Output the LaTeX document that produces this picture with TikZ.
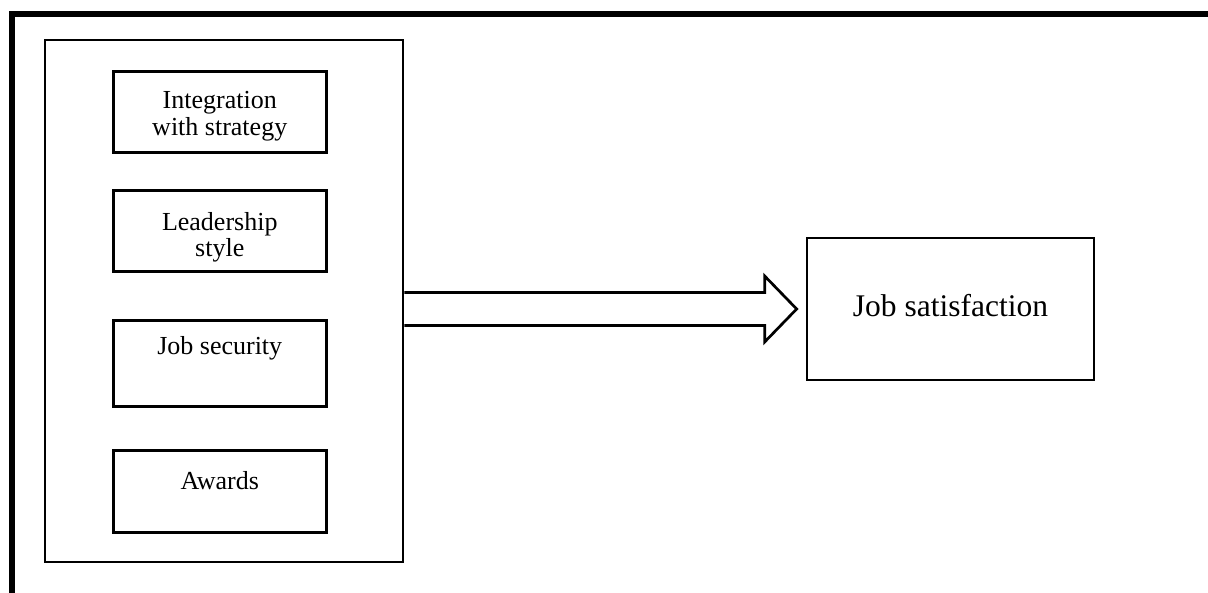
\documentclass[tikz,border=0pt]{standalone}
\usepackage{fontspec}
\setmainfont{Liberation Serif}
\usetikzlibrary{calc}
\begin{document}
\begin{tikzpicture}[x=1pt,y=-1pt,
  container/.style={draw=black, line width=2.6pt, inner sep=0pt},
  ibox/.style={draw=black, line width=3pt, inner sep=0pt, minimum width=212.5pt},
  txt/.style={inner sep=0pt, align=center, anchor=north, font=\fontsize{26}{26.5}\selectfont},
  bigtxt/.style={inner sep=0pt, anchor=base, font=\fontsize{31.5}{34}\selectfont},
  arrowsty/.style={draw=black, line width=2.7pt, line join=miter, fill=white}]
\useasboundingbox (0,0) rectangle (1208,593);
\begin{scope}
  \clip (0,0) rectangle (1208,593);
  \draw[line width=6pt] (12,14.5) rectangle (1240,640);
\end{scope}
% container
\node[container, minimum width=358pt, minimum height=522pt] (cont) at (224,301) {};
% inner boxes
\node[ibox, minimum height=81.5pt] (b1) at (219.75,112.25) {};
\node[ibox, minimum height=81.5pt] (b2) at (219.75,231.25) {};
\node[ibox, minimum height=86.5pt] (b3) at (219.75,363.75) {};
\node[ibox, minimum height=81.5pt] (b4) at (219.75,491.25) {};
\node[txt] (t1) at ($(b1.north)+(0,21.5)$) {Integration\\with strategy};
\node[txt] (t2) at ($(b2.north)+(0,23)$) {Leadership\\style};
\node[txt] (t3) at ($(b3.north)+(0,17.5)$) {Job security};
\node[txt] (t4) at ($(b4.north)+(0,22)$) {Awards};
% outcome
\node[container, line width=2.7pt, minimum width=287pt, minimum height=142pt] (js) at (950.5,309) {};
\node[bigtxt] (jst) at ($(js.center)+(0,7.5)$) {Job satisfaction};
% block arrow
\coordinate (as) at (cont.east |- js.west);
\coordinate (at) at ($(js.west)+(-9,0)$);
\draw[arrowsty] ($(as)+(0,-16.5)$) -- ($(at)+(-32,-16.5)$) -- ($(at)+(-32,-33)$) -- (at)
  -- ($(at)+(-32,33)$) -- ($(at)+(-32,16.5)$) -- ($(as)+(0,16.5)$);
\end{tikzpicture}
\end{document}
